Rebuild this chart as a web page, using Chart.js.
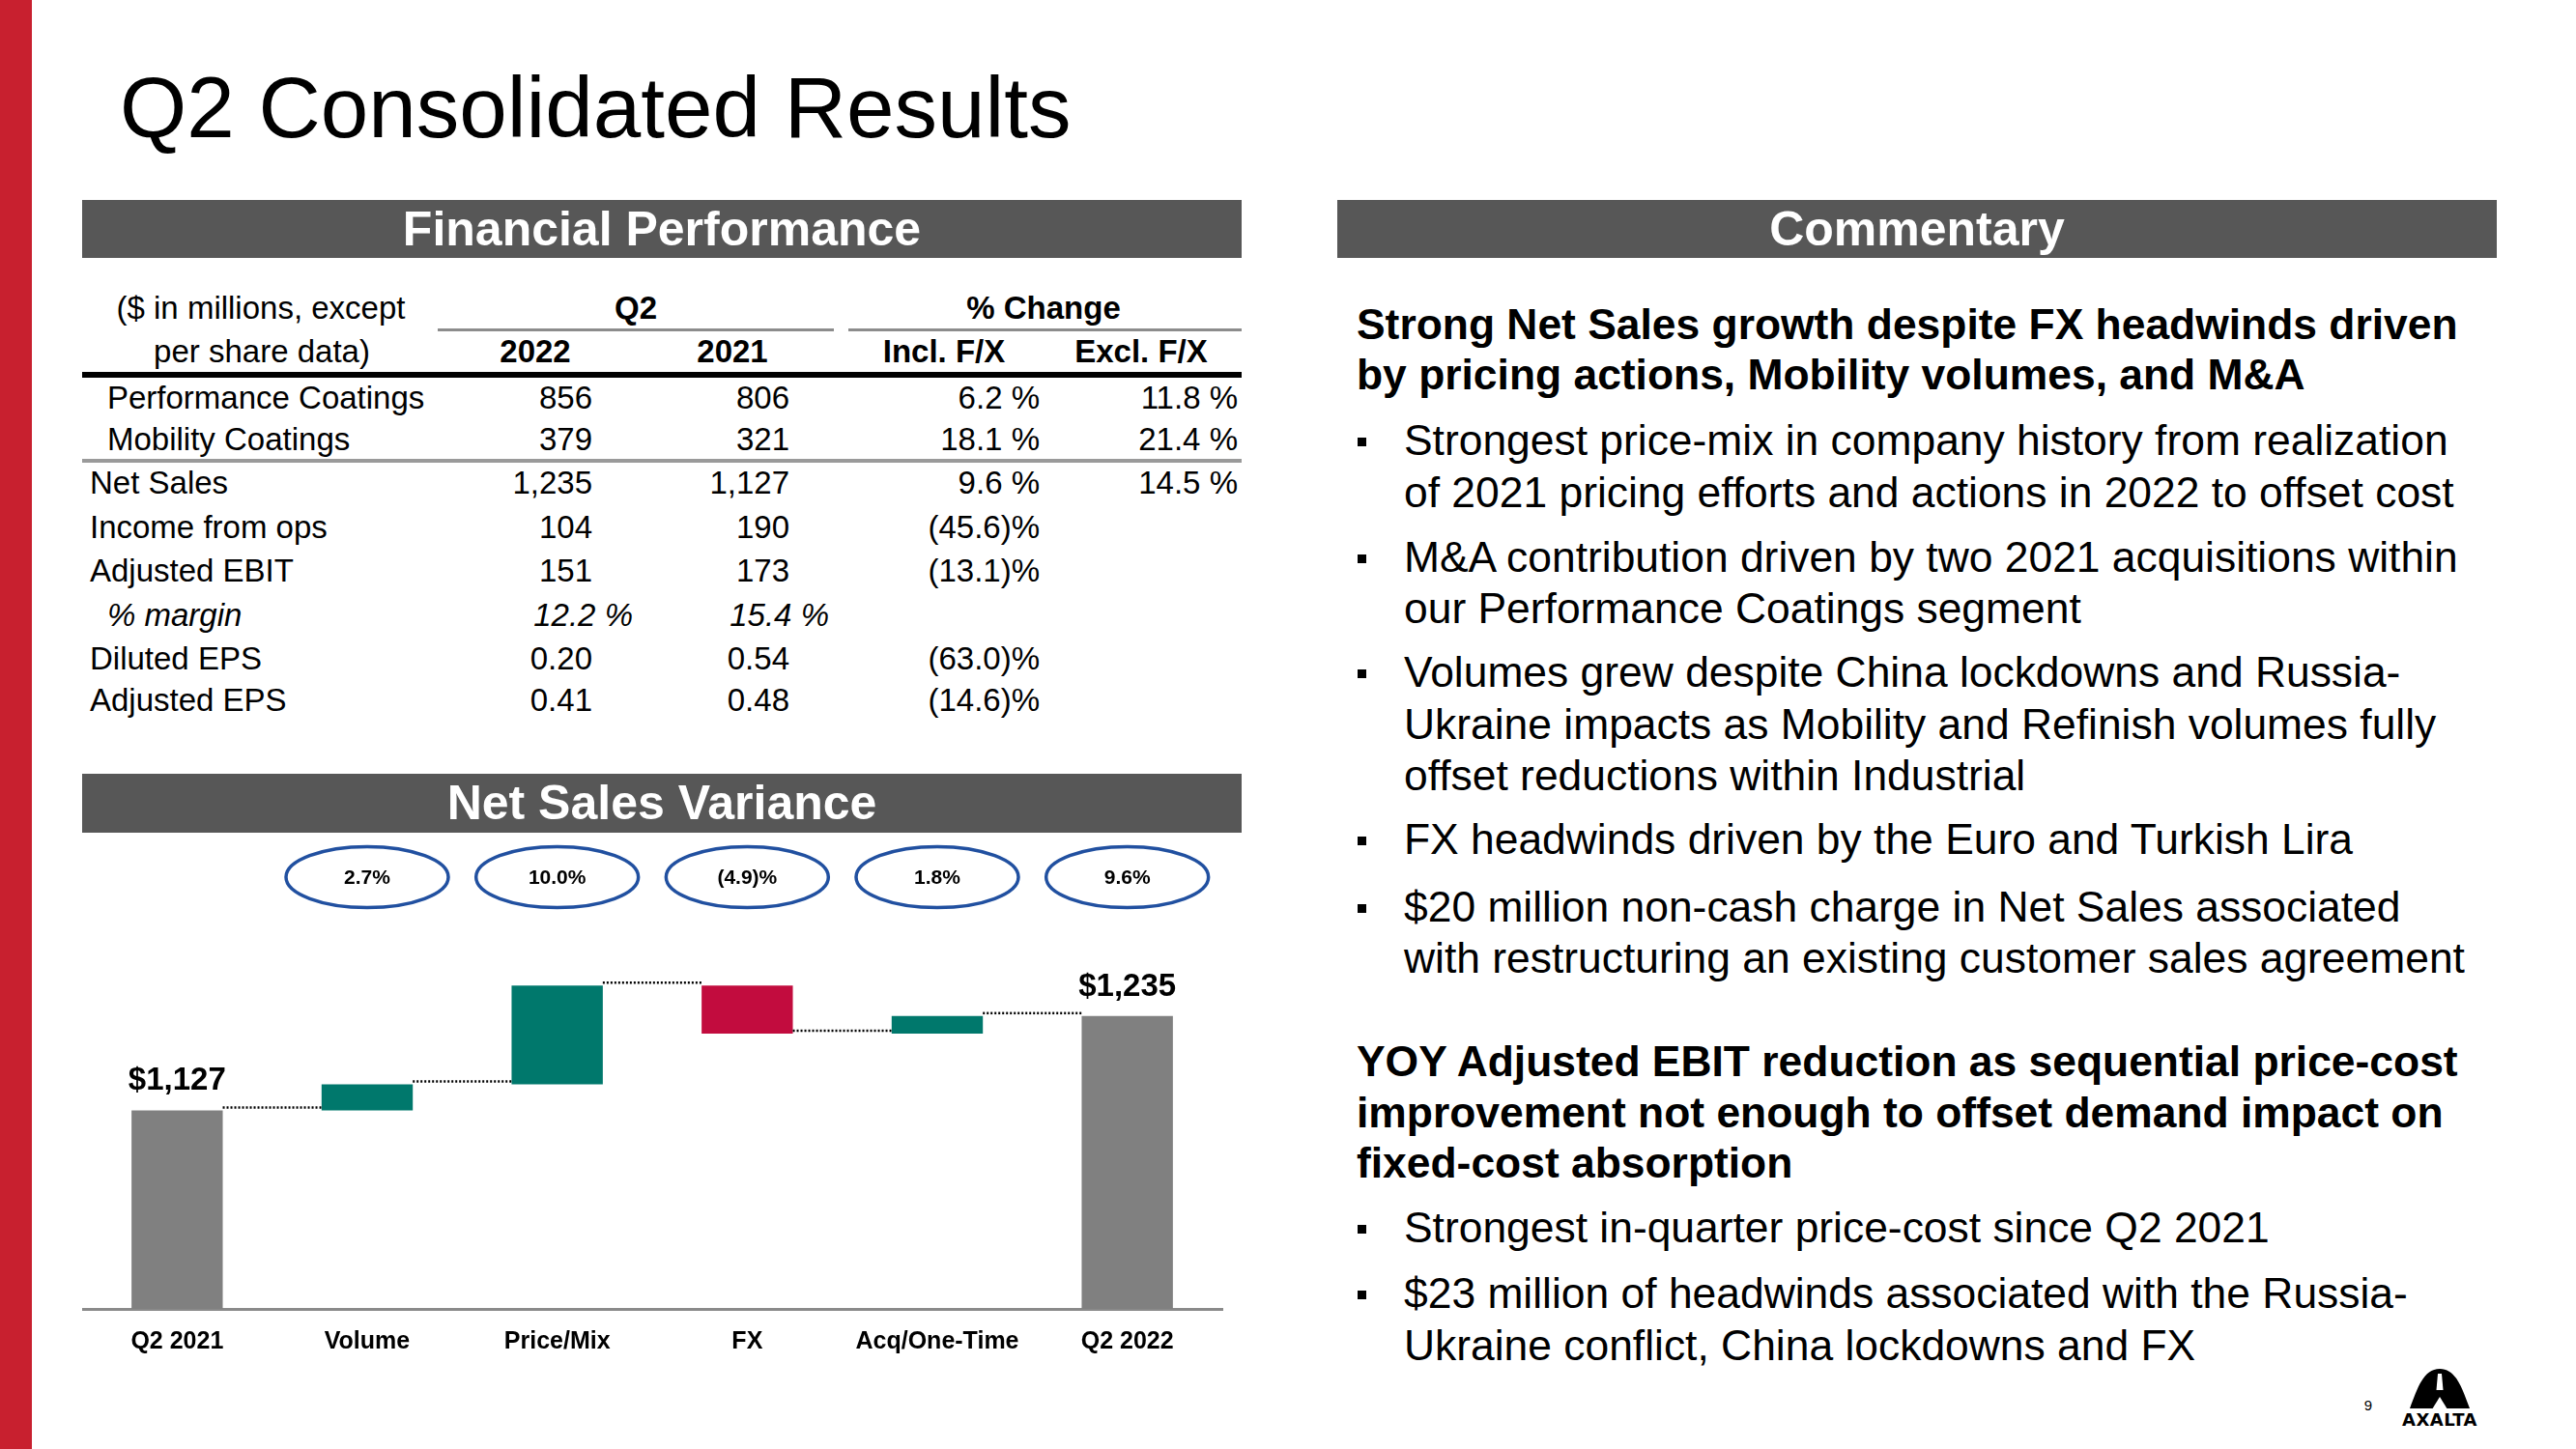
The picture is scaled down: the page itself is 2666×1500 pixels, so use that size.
<!DOCTYPE html>
<html>
<head>
<meta charset="utf-8">
<script src="https://cdn.jsdelivr.net/npm/chart.js@4.4.0/dist/chart.umd.min.js"></script>
<style>
html,body{margin:0;padding:0;background:#fff;}
body{width:2666px;height:1500px;position:relative;overflow:hidden;font-family:"Liberation Sans",Arial,sans-serif;color:#000;}
.t{position:absolute;white-space:nowrap;line-height:1;}
.bar{position:absolute;background:#575757;color:#fff;font-weight:bold;font-size:50px;text-align:center;}
.hl{position:absolute;}
.sq{position:absolute;width:9px;height:9px;background:#000;}
#redStrip{position:absolute;left:0;top:0;width:33px;height:1500px;background:#c8202f;}
#wf{position:absolute;left:85px;top:870px;width:1200px;height:553px;}
</style>
</head>
<body>
<div id="redStrip"></div>
<div id="page"></div>
<div id="wf"><canvas id="wfChart"></canvas></div>
<svg style="position:absolute;left:2494px;top:1417px;" width="62" height="42" viewBox="0 0 62 42">
  <path d="M0,41 C8,20 14,0 31,0 C48,0 54,20 62,41 Z" fill="#000"/>
  <path d="M29,5 L33,5 L34.5,22 L27.5,22 Z" fill="#fff"/>
  <path d="M23,42 L31,29 L39,42 Z" fill="#fff"/>
</svg>

<script>
/* ── DATA ── */
var categories=['Q2 2021','Volume','Price/Mix','FX','Acq/One-Time','Q2 2022'];
var startTotal=1127;
var deltas=[30,113,-55,20];
var endTotal=1235;
var variancePct=['2.7%','10.0%','(4.9)%','1.8%','9.6%'];
var axisMin=900, axisMax=1300;

var rowLabels=['Performance Coatings','Mobility Coatings','Net Sales','Income from ops','Adjusted EBIT','% margin','Diluted EPS','Adjusted EPS'];
var q2022=['856','379','1,235','104','151','12.2 %','0.20','0.41'];
var q2021=['806','321','1,127','190','173','15.4 %','0.54','0.48'];
var inclFx=['6.2 %','18.1 %','9.6 %','(45.6)%','(13.1)%','','(63.0)%','(14.6)%'];
var exclFx=['11.8 %','21.4 %','14.5 %','','','','',''];

var commentary=[
  ['b','Strong Net Sales growth despite FX headwinds driven',337],
  ['b','by pricing actions, Mobility volumes, and M&A',389],
  ['u','Strongest price-mix in company history from realization',457],
  ['c','of 2021 pricing efforts and actions in 2022 to offset cost',511],
  ['u','M&A contribution driven by two 2021 acquisitions within',578],
  ['c','our Performance Coatings segment',631],
  ['u','Volumes grew despite China lockdowns and Russia-',697],
  ['c','Ukraine impacts as Mobility and Refinish volumes fully',751],
  ['c','offset reductions within Industrial',804],
  ['u','FX headwinds driven by the Euro and Turkish Lira',870],
  ['u','$20 million non-cash charge in Net Sales associated',940],
  ['c','with restructuring an existing customer sales agreement',993],
  ['b','YOY Adjusted EBIT reduction as sequential price-cost',1100],
  ['b','improvement not enough to offset demand impact on',1153],
  ['b','fixed-cost absorption',1205],
  ['u','Strongest in-quarter price-cost since Q2 2021',1272],
  ['u','$23 million of headwinds associated with the Russia-',1340],
  ['c','Ukraine conflict, China lockdowns and FX',1394]
];

/* ── PAGE TEXT ── */
var page=document.getElementById('page');
function T(x,y,s,size,o){
  o=o||{};
  var d=document.createElement('div');d.className='t';d.textContent=s;
  d.style.fontSize=size+'px';d.style.top=(y-0.52*size)+'px';
  if(o.b)d.style.fontWeight='bold';
  if(o.i)d.style.fontStyle='italic';
  if(o.c)d.style.color=o.c;
  if(o.a==='r'){d.style.right=(2666-x)+'px';}
  else if(o.a==='c'){d.style.left=x+'px';d.style.transform='translateX(-50%)';}
  else d.style.left=x+'px';
  page.appendChild(d);return d;
}
function R(x,y,w,h,c){var d=document.createElement('div');d.className='hl';d.style.cssText='left:'+x+'px;top:'+y+'px;width:'+w+'px;height:'+h+'px;background:'+c;page.appendChild(d);}
function H(x,y,w,h,s){var d=document.createElement('div');d.className='bar';d.style.cssText='left:'+x+'px;top:'+y+'px;width:'+w+'px;height:'+h+'px;line-height:'+h+'px';d.textContent=s;page.appendChild(d);}

T(124,113,'Q2 Consolidated Results',89);
H(85,207,1200,60,'Financial Performance');
H(1384,207,1200,60,'Commentary');
H(85,801,1200,61,'Net Sales Variance');

// table header
var fs=33;
T(270,319,'($ in millions, except',fs,{a:'c'});
T(271,364,'per share data)',fs,{a:'c'});
T(658,319,'Q2',fs,{a:'c',b:1});
T(1080,319,'% Change',fs,{a:'c',b:1});
T(554,364,'2022',fs,{a:'c',b:1});
T(758,364,'2021',fs,{a:'c',b:1});
T(977,364,'Incl. F/X',fs,{a:'c',b:1});
T(1181,364,'Excl. F/X',fs,{a:'c',b:1});
R(453,340,410,3,'#8c8c8c');
R(878,340,407,3,'#8c8c8c');
R(85,385,1200,6,'#000');
R(85,475,1200,4,'#9a9a9a');

var rowY=[412,455,500,546,591,637,682,725];
rowLabels.forEach(function(l,i){
  var ind=(i<2||i===5);
  T(ind?111:93,rowY[i],l,fs,{i:i===5});
  var it=i===5;
  T(it?655:613,rowY[i],q2022[i],fs,{a:'r',i:it});
  T(it?858:817,rowY[i],q2021[i],fs,{a:'r',i:it});
  if(inclFx[i])T(1076,rowY[i],inclFx[i],fs,{a:'r'});
  if(exclFx[i])T(1281,rowY[i],exclFx[i],fs,{a:'r'});
});

// commentary
commentary.forEach(function(c){
  if(c[0]==='b'){T(1404,c[2],c[1],44.4,{b:1});}
  else{
    if(c[0]==='u'){var s=document.createElement('div');s.className='sq';s.style.left='1405px';s.style.top=(c[2]-4)+'px';page.appendChild(s);}
    T(1453,c[2],c[1],44.4);
  }
});

T(2451,1455,'9',15,{a:'c'});
var ax=T(2525,1470,'AXALTA',18,{a:'c',b:1});ax.style.letterSpacing='0.5px';ax.style.fontFamily='"DejaVu Sans",sans-serif';

/* ── WATERFALL ── */
var ranges=[],levels=[],colors=[];
var run=startTotal;
ranges.push([axisMin,startTotal]);levels.push(run);colors.push('#808080');
deltas.forEach(function(d){
  ranges.push([run,run+d]);run+=d;levels.push(run);
  colors.push(d>=0?'#00786c':'#c20c3e');
});
ranges.push([axisMin,endTotal]);levels.push(endTotal);colors.push('#808080');

var fmt=function(v){return '$'+v.toLocaleString('en-US');};

var wfPlugin={
  id:'wfExtras',
  afterDatasetsDraw:function(chart){
    var ctx=chart.ctx,meta=chart.getDatasetMeta(0),ys=chart.scales.y;
    ctx.save();
    // connectors
    ctx.strokeStyle='#000';ctx.lineWidth=2.5;ctx.setLineDash([2,2]);
    for(var i=0;i<meta.data.length-1;i++){
      var a=meta.data[i],b=meta.data[i+1];
      var y=ys.getPixelForValue(levels[i])-3;
      ctx.beginPath();ctx.moveTo(a.x+a.width/2,y);ctx.lineTo(b.x-b.width/2,y);ctx.stroke();
    }
    ctx.setLineDash([]);
    // total labels
    ctx.fillStyle='#000';ctx.font='bold 33px "Liberation Sans", Arial, sans-serif';
    ctx.textAlign='center';ctx.textBaseline='middle';
    var f=meta.data[0],l=meta.data[meta.data.length-1];
    ctx.fillText(fmt(startTotal),f.x,ys.getPixelForValue(startTotal)-31);
    ctx.fillText(fmt(endTotal),l.x,ys.getPixelForValue(endTotal)-30);
    // % ovals
    ctx.font='bold 21px "Liberation Sans", Arial, sans-serif';
    for(var j=0;j<variancePct.length;j++){
      var el=meta.data[j+1];
      ctx.beginPath();ctx.ellipse(el.x,38,84,31.5,0,0,Math.PI*2);
      ctx.fillStyle='#fff';ctx.fill();
      ctx.strokeStyle='#2150a0';ctx.lineWidth=3.5;ctx.stroke();
      ctx.fillStyle='#000';ctx.fillText(variancePct[j],el.x,39);
    }
    ctx.restore();
  }
};

new Chart(document.getElementById('wfChart').getContext('2d'),{
  type:'bar',
  data:{labels:categories,datasets:[{data:ranges,backgroundColor:colors,borderWidth:0,barPercentage:0.48,categoryPercentage:1}]},
  options:{
    responsive:true,maintainAspectRatio:false,animation:false,
    layout:{padding:{left:0,right:20,top:123,bottom:0}},
    plugins:{legend:{display:false},tooltip:{enabled:false}},
    scales:{
      x:{grid:{display:false,drawTicks:false},border:{display:true,color:'#8a8a8a',width:3},
         ticks:{color:'#000',padding:19,font:{family:'"Liberation Sans", Arial, sans-serif',size:25,weight:'bold'}}},
      y:{display:false,min:axisMin,max:axisMax}
    }
  },
  plugins:[wfPlugin]
});
</script>
</body>
</html>
